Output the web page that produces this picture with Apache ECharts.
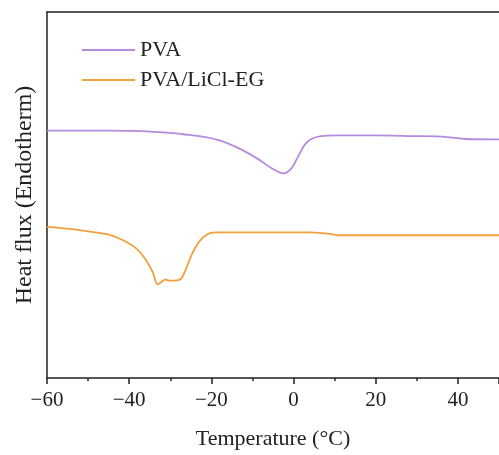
<!DOCTYPE html>
<html>
<head>
<meta charset="utf-8">
<script src="https://cdn.jsdelivr.net/npm/echarts@6/dist/echarts.min.js"></script>
<style>
  html, body { margin: 0; padding: 0; background: #fff; }
  #chart { width: 499px; height: 455px; }
</style>
</head>
<body>
<div id="chart"></div>
<script>
// DSC heating scans, heat flux in arbitrary units (endotherm up)
const pvaTemp = [-60, -50, -40, -35.8, -30, -27, -23, -18.2, -13.4, -8.6, -5.3, -2.5, -0.5, 1.1, 2.7, 4.3, 6.7, 10.8, 20, 29, 37, 42, 49, 50];
const pvaFlux = [6.76, 6.76, 6.75, 6.74, 6.70, 6.66, 6.61, 6.50, 6.28, 5.98, 5.73, 5.59, 5.73, 6.05, 6.37, 6.53, 6.61, 6.63, 6.63, 6.61, 6.59, 6.53, 6.52, 6.52];

const gelTemp = [-60, -55, -49.6, -44.8, -41.6, -38.3, -35.9, -34.3, -33.1, -32.3, -31.3, -29.9, -27.5, -26.3, -24.6, -23.0, -21.0, -19.0, -15.8, -1.2, 3.5, 9.2, 10.8, 30, 50];
const gelFlux = [4.13, 4.08, 4.00, 3.91, 3.77, 3.54, 3.22, 2.90, 2.56, 2.61, 2.69, 2.66, 2.70, 2.95, 3.41, 3.72, 3.93, 3.98, 3.98, 3.98, 3.98, 3.93, 3.90, 3.90, 3.90];

const seriesNames = ['PVA', 'PVA/LiCl-EG'];
const seriesColors = ['#b58be0', '#f2a03d'];

const xTicks = { min: -60, max: 50, step: 20 };

const pair = (xs, ys) => xs.map((x, i) => [x, ys[i]]);

const serif = 'Liberation Serif';
const ink = '#222';

const chart = echarts.init(document.getElementById('chart'), null, { renderer: 'canvas' });

chart.setOption({
  animation: false,
  backgroundColor: '#fff',
  grid: { left: 47, top: 12, right: -3, bottom: 77, show: false },
  legend: {
    orient: 'vertical',
    left: 82, top: 39, padding: 0,
    itemWidth: 53, itemHeight: 2, itemGap: 8,
    icon: 'rect',
    textStyle: { fontFamily: serif, fontSize: 22, color: ink },
    data: seriesNames
  },
  xAxis: [
    {
      type: 'value',
      min: xTicks.min, max: xTicks.max, interval: xTicks.step,
      name: 'Temperature (°C)',
      nameLocation: 'middle', nameGap: 50,
      nameTextStyle: { fontFamily: serif, fontSize: 22, color: ink },
      axisLine: { show: true, onZero: false, lineStyle: { color: ink, width: 1.5 } },
      axisTick: { show: true, inside: false, length: 6, lineStyle: { color: ink, width: 1.5 } },
      minorTick: { show: true, splitNumber: 2, length: 3, lineStyle: { color: ink, width: 1.5 } },
      axisLabel: {
        fontFamily: serif, fontSize: 21, color: ink, margin: 12,
        showMaxLabel: false,
        formatter: v => String(v).replace('-', '\u2212')
      },
      splitLine: { show: false }
    },
    {
      // top frame line
      type: 'value', position: 'top',
      min: xTicks.min, max: xTicks.max,
      axisLine: { show: true, onZero: false, lineStyle: { color: ink, width: 1.5 } },
      axisTick: { show: false },
      axisLabel: { show: false },
      splitLine: { show: false }
    }
  ],
  yAxis: {
    type: 'value', min: 0, max: 10,
    name: 'Heat flux (Endotherm)',
    nameLocation: 'middle', nameGap: 10,
    nameTextStyle: { fontFamily: serif, fontSize: 24, color: ink },
    axisLine: { show: true, onZero: false, lineStyle: { color: ink, width: 1.5 } },
    axisTick: { show: false },
    axisLabel: { show: false },
    splitLine: { show: false }
  },
  series: [
    {
      name: seriesNames[0], type: 'line', data: pair(pvaTemp, pvaFlux),
      showSymbol: false, symbol: 'none', smooth: 0.3,
      lineStyle: { color: seriesColors[0], width: 1.8 },
      itemStyle: { color: seriesColors[0] }
    },
    {
      name: seriesNames[1], type: 'line', data: pair(gelTemp, gelFlux),
      showSymbol: false, symbol: 'none', smooth: 0.3,
      lineStyle: { color: seriesColors[1], width: 1.8 },
      itemStyle: { color: seriesColors[1] }
    }
  ]
});
</script>
</body>
</html>
